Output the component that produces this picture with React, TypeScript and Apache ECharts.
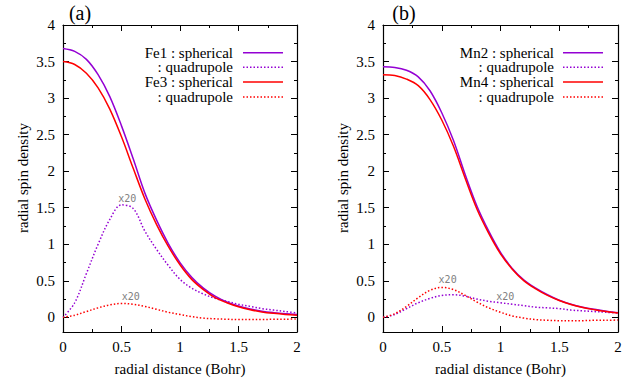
import React, { useEffect, useRef } from "react";
import * as echarts from "echarts";

// radial distance (Bohr)
const xs = [0, 0.1, 0.2, 0.3, 0.4, 0.5, 0.6, 0.7, 0.8, 0.9, 1.0, 1.1, 1.2, 1.3, 1.4, 1.5, 1.6, 1.7, 1.8, 1.9, 2.0];

// panel (a)
const fe1Spherical = [3.68, 3.64, 3.53, 3.32, 3.02, 2.62, 2.17, 1.70, 1.33, 1.01, 0.75, 0.55, 0.40, 0.29, 0.21, 0.155, 0.115, 0.085, 0.065, 0.05, 0.04];
const fe1Quadrupole = [0, 0.2, 0.6, 1.0, 1.34, 1.54, 1.49, 1.18, 0.93, 0.71, 0.52, 0.40, 0.32, 0.26, 0.22, 0.18, 0.15, 0.12, 0.10, 0.08, 0.06];
const fe3Spherical = [3.50, 3.46, 3.34, 3.14, 2.85, 2.47, 2.04, 1.62, 1.27, 0.97, 0.72, 0.52, 0.38, 0.27, 0.20, 0.145, 0.105, 0.075, 0.055, 0.04, 0.03];
const fe3Quadrupole = [0, 0.03, 0.08, 0.13, 0.17, 0.19, 0.18, 0.15, 0.11, 0.07, 0.04, 0.01, -0.01, -0.02, -0.025, -0.03, -0.03, -0.03, -0.025, -0.025, -0.02];

// panel (b)
const mn2Spherical = [3.43, 3.42, 3.38, 3.29, 3.10, 2.80, 2.42, 1.95, 1.52, 1.18, 0.89, 0.67, 0.51, 0.40, 0.31, 0.235, 0.18, 0.14, 0.11, 0.085, 0.065];
const mn2Quadrupole = [0, 0.04, 0.12, 0.20, 0.26, 0.30, 0.31, 0.29, 0.25, 0.22, 0.20, 0.18, 0.16, 0.14, 0.13, 0.12, 0.10, 0.09, 0.08, 0.07, 0.06];
const mn4Spherical = [3.32, 3.31, 3.26, 3.17, 2.98, 2.70, 2.34, 1.90, 1.48, 1.15, 0.87, 0.66, 0.50, 0.39, 0.30, 0.23, 0.175, 0.135, 0.105, 0.08, 0.06];
const mn4Quadrupole = [0, 0.05, 0.15, 0.27, 0.37, 0.41, 0.38, 0.30, 0.21, 0.13, 0.07, 0.02, -0.01, -0.03, -0.04, -0.045, -0.045, -0.045, -0.04, -0.04, -0.035];

const yMajorTicks = [0, 0.5, 1, 1.5, 2, 2.5, 3, 3.5, 4];
const yMinorTicks = [0.25, 0.75, 1.25, 1.75, 2.25, 2.75, 3.25, 3.75];

const panelLabels = ["(a)", "(b)"];
const legendA = ["Fe1 : spherical", ": quadrupole", "Fe3 : spherical", ": quadrupole"];
const legendB = ["Mn2 : spherical", ": quadrupole", "Mn4 : spherical", ": quadrupole"];
const scaleNotes = ["x20"];

const PURPLE = "#9400d3";
const RED = "#ff0000";
const FONT = "Liberation Serif";

const pairs = (ys: number[]) => xs.map((x, i) => [x, ys[i]]);

export default function App() {
  const ref = useRef<HTMLDivElement>(null);

  useEffect(() => {
    document.body.style.margin = "0";
    if (!ref.current) return;
    const chart = echarts.init(ref.current, undefined, { renderer: "svg" });

    const grids = [
      { left: 63, top: 25, width: 234, height: 307 },
      { left: 383, top: 25, width: 235, height: 307 },
    ];

    const xAxes: any[] = [];
    const yAxes: any[] = [];
    grids.forEach((_, g) => {
      xAxes.push({
        gridIndex: g, type: "value", min: 0, max: 2, interval: 0.5, position: "bottom",
        axisLine: { onZero: false, lineStyle: { color: "#000", width: 1.2 } },
        axisTick: { inside: true, length: 6, lineStyle: { color: "#000" } },
        minorTick: { show: true, splitNumber: 2, length: 3, lineStyle: { color: "#000" } },
        axisLabel: { color: "#000", fontFamily: FONT, fontSize: 15, margin: 7 },
        splitLine: { show: false },
      });
      xAxes.push({
        gridIndex: g, type: "value", min: 0, max: 2, interval: 0.5, position: "top",
        axisLine: { onZero: false, lineStyle: { color: "#000", width: 1.2 } },
        axisTick: { inside: true, length: 6, lineStyle: { color: "#000" } },
        minorTick: { show: true, splitNumber: 2, length: 3, lineStyle: { color: "#000" } },
        axisLabel: { show: false },
        splitLine: { show: false },
      });
      const yBase = (pos: string, label: boolean, minor: boolean) => ({
        gridIndex: g, type: "value", min: -0.2, max: 4, position: pos,
        axisLine: { show: !minor, onZero: false, lineStyle: { color: "#000", width: 1.2 } },
        axisTick: {
          show: true, inside: true, length: minor ? 3 : 6,
          customValues: minor ? yMinorTicks : yMajorTicks,
          lineStyle: { color: "#000" },
        },
        axisLabel: label
          ? { show: true, customValues: yMajorTicks, color: "#000", fontFamily: FONT, fontSize: 15, margin: 8 }
          : { show: false },
        splitLine: { show: false },
      });
      yAxes.push(yBase("left", true, false));
      yAxes.push(yBase("left", false, true));
      yAxes.push(yBase("right", false, false));
      yAxes.push(yBase("right", false, true));
    });

    const note = (coord: number[]) => ({
      coord,
      symbol: "circle",
      symbolSize: 0,
      label: {
        show: true, position: "inside", formatter: scaleNotes[0],
        color: "#808080", fontFamily: "DejaVu Sans Mono", fontSize: 10,
      },
    });

    const line = (name: string, ys: number[], color: string, dotted: boolean, g: number, notes: number[][]) => ({
      name, type: "line", data: pairs(ys), xAxisIndex: g * 2, yAxisIndex: g * 4,
      showSymbol: false, smooth: 0.35, clip: true,
      lineStyle: { color, width: 1.5, type: dotted ? [1.5, 2] : "solid" },
      markPoint: notes.length ? { silent: true, data: notes.map(note) } : undefined,
    });

    const series = [
      line("Fe1 quadrupole", fe1Quadrupole, PURPLE, true, 0, [[0.55, 1.63]]),
      line("Fe3 quadrupole", fe3Quadrupole, RED, true, 0, [[0.58, 0.28]]),
      line("Fe1 spherical", fe1Spherical, PURPLE, false, 0, []),
      line("Fe3 spherical", fe3Spherical, RED, false, 0, []),
      line("Mn2 quadrupole", mn2Quadrupole, PURPLE, true, 1, [[1.04, 0.28]]),
      line("Mn4 quadrupole", mn4Quadrupole, RED, true, 1, [[0.55, 0.52]]),
      line("Mn2 spherical", mn2Spherical, PURPLE, false, 1, []),
      line("Mn4 spherical", mn4Spherical, RED, false, 1, []),
    ];

    const txt = (x: number, y: number, text: string, size: number, align: string, rotation = 0) => ({
      type: "text", x, y, rotation,
      style: {
        text, fill: "#000", fontFamily: FONT, fontSize: size,
        align, verticalAlign: "middle",
      },
    });

    const legendGraphics = (texts: string[], textRight: number, lineL: number, lineR: number) => {
      const rows = [52.7, 67.3, 82, 97];
      const colors = [PURPLE, PURPLE, RED, RED];
      const els: any[] = [];
      texts.forEach((t, i) => {
        els.push(txt(textRight, rows[i], t, 15, "right"));
        els.push({
          type: "line", shape: { x1: lineL, y1: rows[i], x2: lineR, y2: rows[i] },
          style: { stroke: colors[i], lineWidth: 1.5, lineDash: i % 2 === 1 ? [1.5, 2] : null },
        });
      });
      return els;
    };

    const graphic: any[] = [
      txt(80, 13, panelLabels[0], 20, "center"),
      txt(404, 13, panelLabels[1], 20, "center"),
      txt(180, 369, "radial distance (Bohr)", 15, "center"),
      txt(500.5, 369, "radial distance (Bohr)", 15, "center"),
      txt(23, 178, "radial spin density", 15, "center", Math.PI / 2),
      txt(343, 178, "radial spin density", 15, "center", Math.PI / 2),
      ...legendGraphics(legendA, 233, 243, 283),
      ...legendGraphics(legendB, 554, 563, 603),
    ];

    chart.setOption({
      animation: false,
      backgroundColor: "#fff",
      textStyle: { fontFamily: FONT },
      grid: grids,
      xAxis: xAxes,
      yAxis: yAxes,
      series,
      graphic,
    });

    return () => chart.dispose();
  }, []);

  return <div ref={ref} style={{ width: 639, height: 384, position: "fixed", left: 0, top: 0 }} />;
}
